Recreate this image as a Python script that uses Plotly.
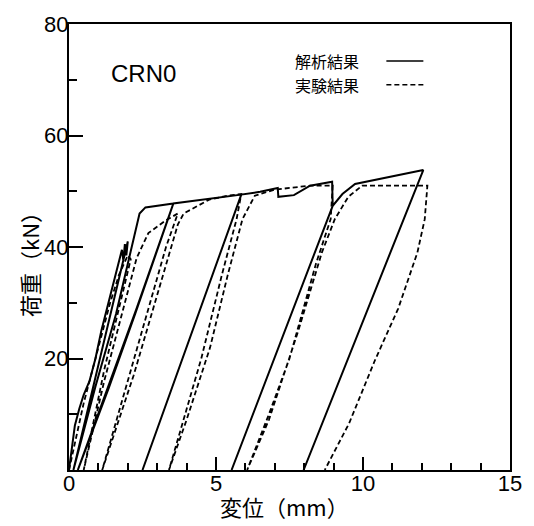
import plotly.graph_objects as go

# Load-displacement history, analysis (solid) — displacement in mm, load in kN
ana_disp = [0, 0.1, 0.2, 0.35, 0.5, 0.7, 0.9, 1.1, 1.35, 1.6, 1.75, 1.8, 1.85, 1.9, 1.95, 2.0,
            0.15, 0.9, 1.6, 2.0, 2.2, 2.4, 2.6, 3.0, 3.55,
            2.25, 1.36, 0.3,
            1.2, 2.3, 3.55,
            4.5, 5.86,
            2.5, 5.86,
            6.5, 7.1, 7.12, 7.65, 8.2, 8.95, 8.97,
            5.53, 8.97,
            9.3, 9.73, 12.05,
            7.98]
ana_load = [0, 4, 8, 11, 13.5, 16, 20, 25, 30, 35, 38, 39.5, 37.5, 40.5, 38.5, 41,
            0, 15, 28, 37, 42, 46, 47.1, 47.4, 47.8,
            28, 14.8, 0,
            13, 29, 47.8,
            48.5, 49.4,
            0, 49.4,
            49.9, 50.6, 49.0, 49.3, 51.0, 51.7, 47.4,
            0, 47.4,
            49.5, 51.3, 53.8,
            0]

# Load-displacement history, test (dashed)
exp_disp = [0, 0.25, 0.5, 0.8, 1.1, 1.4, 1.7, 2.0, 2.1,
            1.2, 0.5,
            1.2, 1.9, 2.3, 2.7, 3.3, 3.7,
            3.3, 2.0, 1.13,
            2.2, 3.2, 3.7, 3.9, 4.77, 5.4, 5.86,
            5.7, 5.2, 4.5, 3.9, 3.4,
            4.0, 4.8, 5.4, 5.9, 6.32, 7.0, 8.2, 8.97,
            8.9, 8.4, 7.5, 6.8, 6.06,
            6.8, 7.8, 8.6, 9.04, 9.5, 9.97, 12.19,
            12.1, 11.85, 11.2, 10.4, 9.53, 8.7]
exp_load = [0, 6, 12, 18, 24, 30, 35, 38.5, 37.8,
            18, 0,
            16, 30, 38, 42.5, 44.8, 46,
            40, 16, 0,
            17, 35, 44, 46, 48.5, 49.2, 49.5,
            45, 35, 20, 9, 0,
            9, 22, 35, 45, 49.2, 50.3, 51, 51,
            45, 37, 20, 10, 0,
            9, 25, 39, 45, 49, 51, 51,
            45, 39, 29, 19.6, 8.4, 0]

x_ticks = [0, 5, 10, 15]
y_ticks = [20, 40, 60, 80]

fig = go.Figure()
fig.add_trace(go.Scatter(x=ana_disp, y=ana_load, mode="lines",
                         line=dict(color="black", width=2), showlegend=False))
fig.add_trace(go.Scatter(x=exp_disp, y=exp_load, mode="lines",
                         line=dict(color="black", width=1.8, dash="5px,3px"),
                         showlegend=False))

axis_font = dict(family="Liberation Sans, Arial", size=22, color="black")

fig.update_xaxes(range=[0, 15], tickvals=x_ticks, ticks="inside", ticklen=13, tickwidth=1.5,
                 tickcolor="black", showline=True, linewidth=2, linecolor="black", mirror=True,
                 showgrid=False, zeroline=False, tickfont=axis_font, ticklabelstandoff=-7,
                 minor=dict(dtick=1, ticks="inside", ticklen=7, tickwidth=1.5, tickcolor="black",
                            showgrid=False))
fig.update_yaxes(range=[0, 80], tickvals=y_ticks, ticks="inside", ticklen=14, tickwidth=1.5,
                 tickcolor="black", showline=True, linewidth=2, linecolor="black", mirror=True,
                 showgrid=False, zeroline=False, tickfont=axis_font, ticklabelstandoff=-6,
                 minor=dict(dtick=10, ticks="inside", ticklen=8, tickwidth=1.5, tickcolor="black",
                            showgrid=False))

W, H = 534, 526
L, R, T, B = 69, 12, 19.5, 55.5
pw, ph = W - L - R, H - T - B


def px_x(px):
    return (px - L) / pw


def px_y(py):
    return 1 - (py - T) / ph


cjk = "Noto Sans CJK JP"
legend_rows = [("解析結果", 57, "solid"), ("実験結果", 81, "5px,3px")]

annotations = [
    dict(text="CRN0", x=px_x(110), y=px_y(70), xanchor="left", yanchor="middle",
         font=dict(family="Liberation Sans, Arial", size=24, color="black")),
    dict(text="変位（mm）", x=px_x(290), y=px_y(507), xanchor="center", yanchor="middle",
         font=dict(family=cjk, size=22, color="black")),
    dict(text="荷重（kN）", x=px_x(28), y=px_y(257), xanchor="center", yanchor="middle",
         textangle=-90, font=dict(family=cjk, size=22, color="black")),
]
shapes = []
for label, row_y, dash in legend_rows:
    annotations.append(dict(text=label, x=px_x(299), y=px_y(row_y), xanchor="left",
                            yanchor="middle", font=dict(family=cjk, size=16, color="black")))
    shapes.append(dict(type="line", xref="paper", yref="paper",
                       x0=px_x(395), x1=px_x(433), y0=px_y(row_y), y1=px_y(row_y),
                       line=dict(color="black", width=1.5, dash=dash)))
for a in annotations:
    a.update(xref="paper", yref="paper", showarrow=False)

fig.update_layout(width=W, height=H, margin=dict(l=L, r=R, t=T, b=B),
                  paper_bgcolor="white", plot_bgcolor="white",
                  annotations=annotations, shapes=shapes, showlegend=False)

fig.write_html("out.html")
